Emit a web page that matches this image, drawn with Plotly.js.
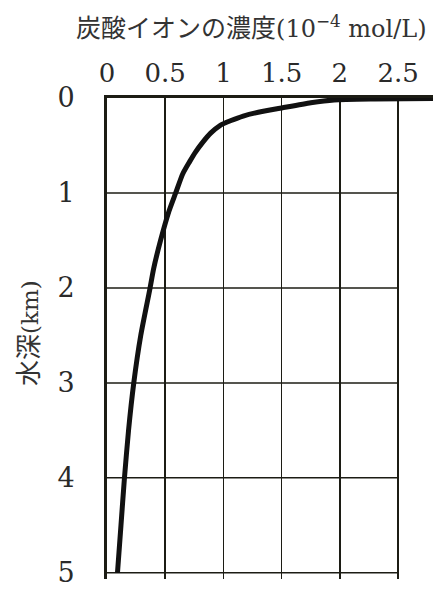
<!DOCTYPE html>
<html><head><meta charset="utf-8">
<script src="https://cdn.plot.ly/plotly-3.0.1.min.js"></script>
<style>html,body{margin:0;padding:0;background:#fff;}#c{width:433px;height:589px;}</style>
</head><body><div id="c"></div>
<script>
const depthKm = [0.005, 0.01, 0.02, 0.05, 0.105, 0.15, 0.19, 0.24, 0.29, 0.37, 0.47, 0.57, 0.67, 0.8, 1.0, 1.2, 1.5, 1.8, 2.0, 2.5, 3.0, 3.5, 4.0, 4.5, 5.0];
const carbonate = [2.8, 2.3, 1.95, 1.75, 1.5, 1.3, 1.17, 1.06, 0.97, 0.89, 0.82, 0.76, 0.71, 0.65, 0.59, 0.53, 0.46, 0.40, 0.37, 0.29, 0.23, 0.185, 0.15, 0.12, 0.09];
const xTicks = [0, 0.5, 1, 1.5, 2, 2.5];
const xTickText = ['0', '0.5', '1', '1.5', '2', '2.5'];
const yTicks = [0, 1, 2, 3, 4, 5];
const yTickText = ['0', '1', '2', '3', '4', '5'];

const lineCol = '#1c1c14';
const serif = 'DejaVu Serif';

const shapes = yTicks.filter(v => v > 0).map(v => ({
  type: 'line', xref: 'x', yref: 'y', x0: 0, x1: xTicks[xTicks.length - 1], y0: v, y1: v,
  line: {color: lineCol, width: 1.5}, layer: 'below'
}));

const trace = {
  x: carbonate, y: depthKm, type: 'scatter', mode: 'lines',
  line: {color: '#111', width: 5, shape: 'spline', smoothing: 0.6},
  hoverinfo: 'none'
};

const layout = {
  width: 433, height: 589,
  margin: {l: 107, r: 0, t: 98, b: 10},
  paper_bgcolor: '#fff', plot_bgcolor: '#fff',
  showlegend: false,
  annotations: [{
    text: '炭酸イオンの濃度<span style="font-family:DejaVu Serif;font-size:24px">(10<sup>−4</sup> mol/L)</span>',
    xref: 'paper', yref: 'paper', x: (251 - 107) / 326, y: 1 + (98 - 26) / 481,
    xanchor: 'center', yanchor: 'middle', showarrow: false,
    font: {family: 'Noto Sans CJK JP', size: 25, color: '#333'}
  }, {
    text: '水深<span style="font-family:DejaVu Serif;font-size:23px">(km)</span>',
    xref: 'paper', yref: 'paper', x: (26 - 107) / 326, y: 1 - (333 - 98) / 481,
    xanchor: 'center', yanchor: 'middle', textangle: -90, showarrow: false,
    font: {family: 'Noto Sans CJK JP', size: 26, color: '#333'}
  }],
  xaxis: {
    side: 'top', range: [0, 2.8], tickvals: xTicks, ticktext: xTickText,
    showgrid: true, gridcolor: lineCol, gridwidth: 1.5,
    showline: true, linecolor: lineCol, linewidth: 3,
    zeroline: false, ticks: '', ticklabelstandoff: 3,
    tickfont: {family: serif, size: 26, color: '#2a2a2a'}
  },
  yaxis: {
    range: [5.065, 0], tickvals: yTicks, ticktext: yTickText,
    showgrid: false, showline: true, linecolor: lineCol, linewidth: 3,
    zeroline: false, ticks: '', ticklabelstandoff: 24, ticklabeloverflow: 'allow',
    tickfont: {family: serif, size: 27, color: '#2a2a2a'}
  },
  shapes: shapes
};

Plotly.newPlot('c', [trace], layout, {staticPlot: true, displayModeBar: false});
</script></body></html>
